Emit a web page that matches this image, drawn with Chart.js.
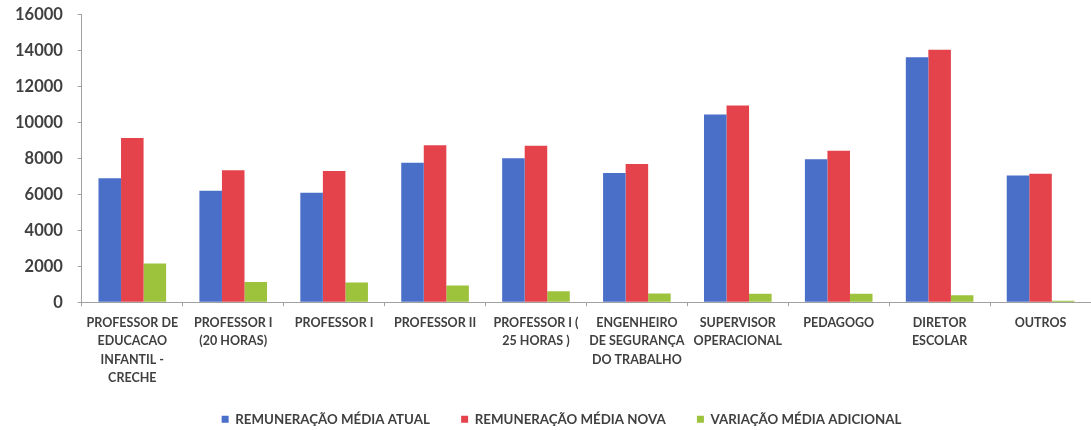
<!DOCTYPE html>
<html>
<head>
<meta charset="utf-8">
<script src="https://cdn.jsdelivr.net/npm/chart.js@4"></script>
<style>
  body { margin: 0; background: #fff; overflow: hidden; }
  #chart { display: block; margin-top: -10px; }
</style>
</head>
<body>
<canvas id="chart" width="1091" height="440"></canvas>
<script>
// categorias (eixo x)
const labels = [
    ['PROFESSOR DE', 'EDUCACAO', 'INFANTIL -', 'CRECHE'],
    ['PROFESSOR I', '(20 HORAS)'],
    'PROFESSOR I',
    'PROFESSOR II',
    ['PROFESSOR I (', '25 HORAS )'],
    ['ENGENHEIRO', 'DE SEGURANÇA', 'DO TRABALHO'],
    ['SUPERVISOR', 'OPERACIONAL'],
    'PEDAGOGO',
    ['DIRETOR', 'ESCOLAR'],
    'OUTROS'
];

const mediaAtual = [6900, 6200, 6100, 7760, 8020, 7200, 10460, 7960, 13640, 7050];
const mediaNova = [9150, 7350, 7300, 8740, 8710, 7690, 10960, 8430, 14060, 7160];
const variacao = [2150, 1120, 1100, 930, 610, 490, 470, 470, 390, 80];

const seriesNames = ['REMUNERAÇÃO MÉDIA ATUAL', 'REMUNERAÇÃO MÉDIA NOVA', 'VARIAÇÃO MÉDIA ADICIONAL'];

const fontFamily = 'Lato, "Open Sans", sans-serif';
const textColor = '#404040';

const ctx = document.getElementById('chart');
new Chart(ctx, {
    type: 'bar',
    data: {
        labels: labels,
        datasets: [
            { label: seriesNames[0], data: mediaAtual, backgroundColor: '#4a6fc9' },
            { label: seriesNames[1], data: mediaNova, backgroundColor: '#e4434b' },
            { label: seriesNames[2], data: variacao, backgroundColor: '#9dc23c' }
        ]
    },
    options: {
        responsive: false,
        animation: false,
        layout: { padding: { top: 0, left: 0, right: 0, bottom: -6 } },
        datasets: {
            bar: { categoryPercentage: 0.67, barPercentage: 1.0 }
        },
        plugins: {
            tooltip: { enabled: false },
            legend: {
                position: 'bottom',
                fullSize: false,
                labels: {
                    boxWidth: 7,
                    boxHeight: 7,
                    padding: 18,
                    color: textColor,
                    font: { family: fontFamily, size: 13.3, weight: 'bold' },
                    // extra room between the items (the last one pulls the row a bit left)
                    generateLabels: (chart) => Chart.defaults.plugins.legend.labels.generateLabels(chart)
                        .map((item, i, all) => Object.assign(item, {
                            text: item.text + (i === all.length - 1 ? '\u2003\u2003\u2003\u2003\u2003' : '\u2003\u2009\u2009')
                        }))
                }
            }
        },
        scales: {
            x: {
                offset: true,
                grid: {
                    display: true,
                    offset: true,
                    drawOnChartArea: false,
                    tickLength: 4,
                    color: '#a0a0a0'
                },
                border: { display: true, color: '#a0a0a0' },
                ticks: {
                    autoSkip: false,
                    maxRotation: 0,
                    padding: 8,
                    color: textColor,
                    font: { family: fontFamily, size: 12.5, weight: 'bold', lineHeight: 1.45 }
                }
            },
            y: {
                min: 0,
                max: 16000,
                grid: {
                    display: true,
                    drawOnChartArea: false,
                    tickLength: 4,
                    color: '#a0a0a0'
                },
                border: { display: true, color: '#a0a0a0' },
                ticks: {
                    stepSize: 2000,
                    padding: 15,
                    color: textColor,
                    font: { family: fontFamily, size: 16.5, weight: 'bold' },
                    callback: (v) => String(v)
                }
            }
        }
    }
});
</script>
</body>
</html>
